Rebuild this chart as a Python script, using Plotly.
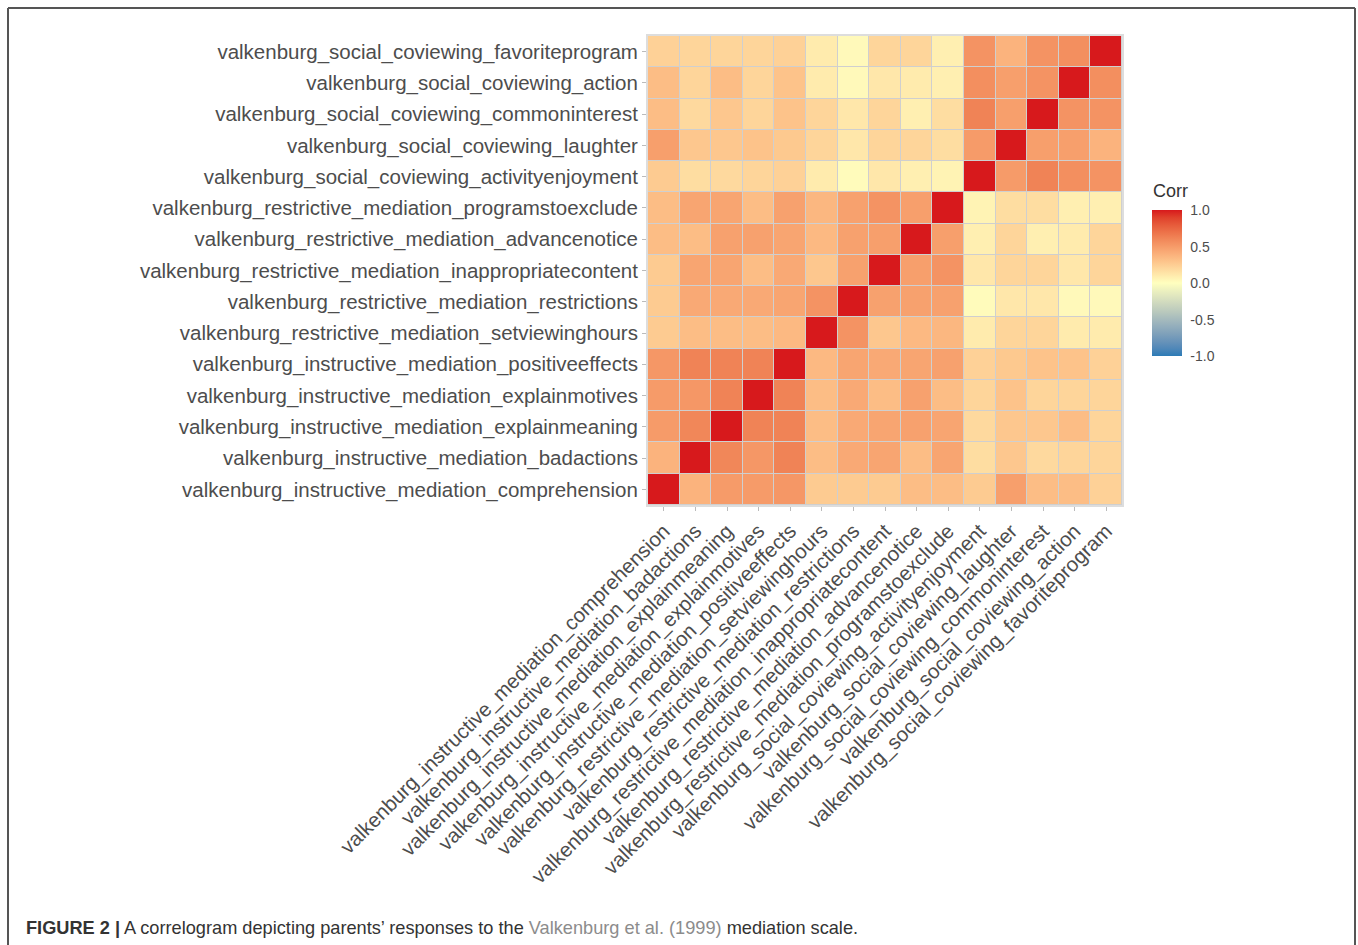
import numpy as np
import plotly.graph_objects as go

# Variables in axis order (x: left to right, y: bottom to top)
variables = [
    "valkenburg_instructive_mediation_comprehension",
    "valkenburg_instructive_mediation_badactions",
    "valkenburg_instructive_mediation_explainmeaning",
    "valkenburg_instructive_mediation_explainmotives",
    "valkenburg_instructive_mediation_positiveeffects",
    "valkenburg_restrictive_mediation_setviewinghours",
    "valkenburg_restrictive_mediation_restrictions",
    "valkenburg_restrictive_mediation_inappropriatecontent",
    "valkenburg_restrictive_mediation_advancenotice",
    "valkenburg_restrictive_mediation_programstoexclude",
    "valkenburg_social_coviewing_activityenjoyment",
    "valkenburg_social_coviewing_laughter",
    "valkenburg_social_coviewing_commoninterest",
    "valkenburg_social_coviewing_action",
    "valkenburg_social_coviewing_favoriteprogram",
]

# Lower triangle of the correlation matrix (row i, columns 0..i-1)
corr_lower = [
    [],
    [0.38],
    [0.50, 0.60],
    [0.50, 0.52, 0.62],
    [0.52, 0.62, 0.62, 0.62],
    [0.26, 0.33, 0.33, 0.33, 0.35],
    [0.26, 0.43, 0.43, 0.43, 0.45, 0.54],
    [0.26, 0.45, 0.45, 0.33, 0.43, 0.28, 0.47],
    [0.33, 0.33, 0.47, 0.47, 0.45, 0.35, 0.47, 0.48],
    [0.33, 0.45, 0.45, 0.33, 0.47, 0.36, 0.47, 0.54, 0.48],
    [0.26, 0.17, 0.19, 0.21, 0.23, 0.10, 0.02, 0.12, 0.08, 0.06],
    [0.48, 0.28, 0.28, 0.30, 0.27, 0.21, 0.12, 0.21, 0.21, 0.17, 0.50],
    [0.33, 0.19, 0.28, 0.21, 0.30, 0.21, 0.12, 0.21, 0.08, 0.17, 0.62, 0.48],
    [0.33, 0.21, 0.33, 0.21, 0.30, 0.10, 0.03, 0.12, 0.10, 0.08, 0.56, 0.48, 0.54],
    [0.23, 0.21, 0.21, 0.21, 0.23, 0.10, 0.03, 0.21, 0.21, 0.08, 0.54, 0.38, 0.54, 0.56],
]

colorbar_ticks = [-1.0, -0.5, 0.0, 0.5, 1.0]
colorbar_ticklabels = ["-1.0", "-0.5", "0.0", "0.5", "1.0"]

n = len(variables)
corr = np.eye(n)
for i, row in enumerate(corr_lower):
    for j, v in enumerate(row):
        corr[i, j] = v
        corr[j, i] = v


# Diverging gradient interpolated in CIE Lab space (low / mid / high)
def hex_to_rgb(h):
    h = h.lstrip("#")
    return np.array([int(h[k:k + 2], 16) for k in (0, 2, 4)], dtype=float)


def rgb_to_lab(rgb):
    c = rgb / 255.0
    c = np.where(c > 0.04045, ((c + 0.055) / 1.055) ** 2.4, c / 12.92)
    m = np.array([[0.4124, 0.3576, 0.1805],
                  [0.2126, 0.7152, 0.0722],
                  [0.0193, 0.1192, 0.9505]])
    xyz = m @ c / np.array([0.95047, 1.0, 1.08883])
    f = np.where(xyz > 0.008856, np.cbrt(xyz), 7.787 * xyz + 16 / 116)
    return np.array([116 * f[1] - 16, 500 * (f[0] - f[1]), 200 * (f[1] - f[2])])


def lab_to_rgb(lab):
    fy = (lab[0] + 16) / 116
    fx = fy + lab[1] / 500
    fz = fy - lab[2] / 200
    f = np.array([fx, fy, fz])
    xyz = np.where(f ** 3 > 0.008856, f ** 3, (f - 16 / 116) / 7.787)
    xyz = xyz * np.array([0.95047, 1.0, 1.08883])
    m = np.array([[3.2406, -1.5372, -0.4986],
                  [-0.9689, 1.8758, 0.0415],
                  [0.0557, -0.2040, 1.0570]])
    c = m @ xyz
    c = np.where(c > 0.0031308, 1.055 * np.clip(c, 0, None) ** (1 / 2.4) - 0.055, 12.92 * c)
    return np.clip(np.round(c * 255), 0, 255).astype(int)


low, mid, high = (rgb_to_lab(hex_to_rgb(h)) for h in ("#2c7bb6", "#ffffbf", "#d7191c"))
colorscale = []
steps = 20
for k in range(steps + 1):
    t = k / steps
    if t <= 0.5:
        lab = low + (mid - low) * (t / 0.5)
    else:
        lab = mid + (high - mid) * ((t - 0.5) / 0.5)
    r, g, b = lab_to_rgb(lab)
    colorscale.append([t, f"rgb({r},{g},{b})"])

# Page geometry (pixels) for placing the panel, frame and caption
W, H = 1358, 945
PX_L, PX_R, PX_T, PX_B = 648, 1122, 36, 505


def px_x(x):
    return (x - PX_L) / (PX_R - PX_L)


def px_y(y):
    return (PX_B - y) / (PX_B - PX_T)


FONT = "Liberation Sans, Arial, sans-serif"
label_font = dict(family=FONT, size=20.5, color="#4d4d4d")

fig = go.Figure(
    go.Heatmap(
        z=corr,
        x=variables,
        y=variables,
        zmin=-1,
        zmax=1,
        colorscale=colorscale,
        xgap=1,
        ygap=1,
        hovertemplate="%{x}<br>%{y}<br>Corr: %{z:.2f}<extra></extra>",
        colorbar=dict(
            tickvals=colorbar_ticks,
            ticktext=colorbar_ticklabels,
            ticks="outside",
            ticklen=6,
            tickcolor="white",
            tickfont=dict(family=FONT, size=14, color="#4d4d4d"),
            outlinewidth=0,
            thickness=30,
            thicknessmode="pixels",
            len=146,
            lenmode="pixels",
            x=px_x(1152),
            xanchor="left",
            xpad=0,
            y=px_y(283.5),
            yanchor="middle",
            ypad=0,
        ),
    )
)

axis_common = dict(
    showgrid=False,
    zeroline=False,
    showline=True,
    linecolor="#dddddd",
    linewidth=2,
    mirror=True,
    ticks="outside",
    ticklen=4,
    tickcolor="#bbbbbb",
    tickfont=label_font,
)

fig.update_xaxes(tickangle=-45, **axis_common)
fig.update_yaxes(**axis_common)

shapes = [
    # figure frame: top, left and right edges
    dict(type="line", xref="paper", yref="paper", x0=px_x(8), x1=px_x(1355), y0=px_y(8), y1=px_y(8),
         line=dict(color="#555555", width=2)),
    dict(type="line", xref="paper", yref="paper", x0=px_x(8), x1=px_x(8), y0=px_y(8), y1=px_y(960),
         line=dict(color="#555555", width=2)),
    dict(type="line", xref="paper", yref="paper", x0=px_x(1355), x1=px_x(1355), y0=px_y(8), y1=px_y(960),
         line=dict(color="#555555", width=2)),
]

caption = (
    "<b>FIGURE 2 |</b> A correlogram depicting parents\u2019 responses to the "
    "<span style='color:#8c8c8c'>Valkenburg et al. (1999)</span> mediation scale."
)

fig.update_layout(
    width=W,
    height=H,
    margin=dict(l=PX_L, r=W - PX_R, t=PX_T, b=H - PX_B, pad=0),
    paper_bgcolor="white",
    plot_bgcolor="#cfcfcf",
    shapes=shapes,
    annotations=[
        dict(
            text="Corr",
            xref="paper",
            yref="paper",
            x=px_x(1151),
            y=px_y(191),
            xanchor="left",
            yanchor="middle",
            showarrow=False,
            font=dict(family=FONT, size=18, color="#333333"),
        ),
        dict(
            text=caption,
            xref="paper",
            yref="paper",
            x=px_x(24),
            y=px_y(928),
            xanchor="left",
            yanchor="middle",
            showarrow=False,
            font=dict(family=FONT, size=18.2, color="#333333"),
        ),
    ],
)

fig.write_html("out.html")
